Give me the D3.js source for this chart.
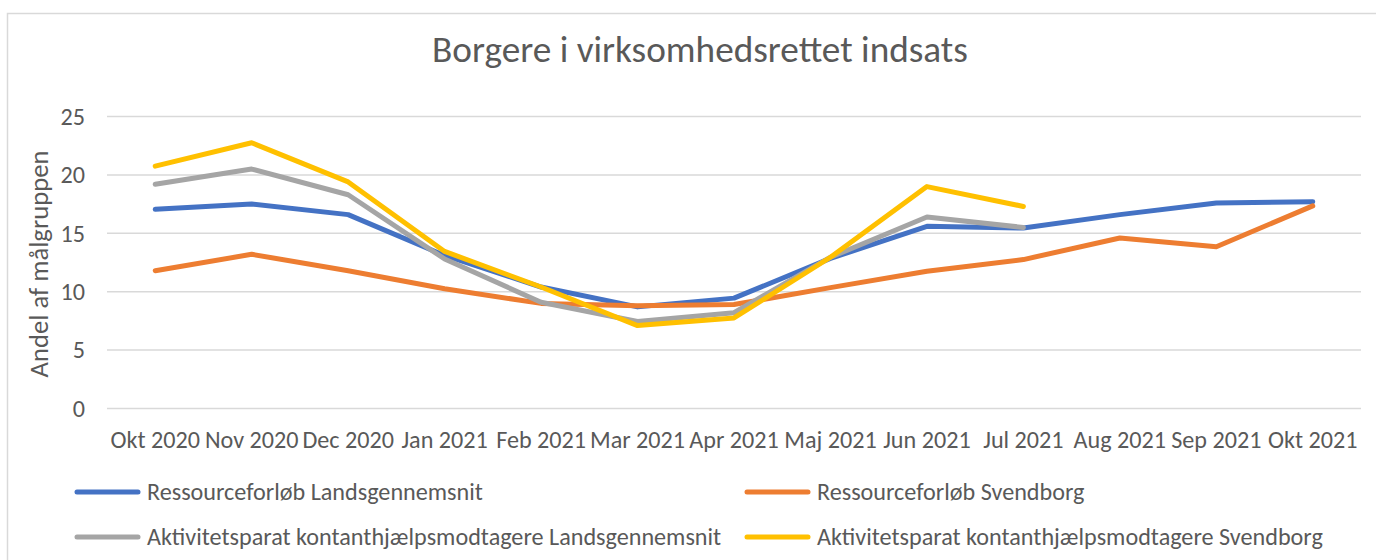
<!DOCTYPE html>
<html>
<head>
<meta charset="utf-8">
<script src="https://cdn.jsdelivr.net/npm/d3@7"></script>
<style>
  body { margin: 0; background: #fff; }
  svg { display: block; }
  text { font-family: Carlito, Calibri, Lato, sans-serif; fill: #595959; }
</style>
</head>
<body>
<svg id="chart"></svg>
<script>
// data
const months = ["Okt 2020", "Nov 2020", "Dec 2020", "Jan 2021", "Feb 2021", "Mar 2021", "Apr 2021",
  "Maj 2021", "Jun 2021", "Jul 2021", "Aug 2021", "Sep 2021", "Okt 2021"];
const ressLands = [17.05, 17.5, 16.6, 13.1, 10.4, 8.7, 9.45, 12.85, 15.6, 15.45, 16.6, 17.6, 17.7];
const ressSvend = [11.8, 13.2, 11.8, 10.25, 9.0, 8.8, 8.9, 10.35, 11.75, 12.75, 14.6, 13.85, 17.35];
const aktLands = [19.2, 20.5, 18.3, 12.8, 9.1, 7.45, 8.2, 12.95, 16.4, 15.5, null, null, null];
const aktSvend = [20.75, 22.75, 19.4, 13.45, 10.4, 7.1, 7.75, 12.95, 19.0, 17.3, null, null, null];
const yTicks = [0, 5, 10, 15, 20, 25];
const seriesNames = ["Ressourceforløb Landsgennemsnit", "Ressourceforløb Svendborg",
  "Aktivitetsparat kontanthjælpsmodtagere Landsgennemsnit", "Aktivitetsparat kontanthjælpsmodtagere Svendborg"];
const seriesColors = ["#4472C4", "#ED7D31", "#A5A5A5", "#FFC000"];
const title = "Borgere i virksomhedsrettet indsats";
const yTitle = "Andel af målgruppen";

const width = 1376, height = 560;
const margin = {left: 107, right: 15, top: 117, bottom: 152};

var svg = d3.select("#chart").attr("width", width).attr("height", height);

// chart frame
svg.append("rect")
  .attr("x", 7.5).attr("y", 13.5)
  .attr("width", width).attr("height", height)
  .attr("fill", "#fff").attr("stroke", "#d9d9d9").attr("stroke-width", 1.5);

var x = d3.scaleBand().domain(months).range([margin.left, width - margin.right]);
var y = d3.scaleLinear().domain([0, 25]).range([height - margin.bottom + 0.5, margin.top - 0.5]);

// measure once so the fallback font is sized like the original
function fitSize(str, target, base) {
  var t = svg.append("text").style("font-size", base + "px").text(str);
  var w = t.node().getComputedTextLength();
  t.remove();
  return base * target / w;
}
var fs = fitSize(seriesNames[0], 336, 24);
var titleFs = fitSize(title, 536, 36);
var yTitleFs = fitSize(yTitle, 227, 24);

// gridlines
svg.append("g")
  .selectAll("line")
  .data(yTicks).enter()
  .append("line")
  .attr("x1", margin.left).attr("x2", width - margin.right)
  .attr("y1", d => y(d)).attr("y2", d => y(d))
  .attr("stroke", "#d9d9d9").attr("stroke-width", 1.5);

// y axis labels
var yAxis = svg.append("g")
  .attr("transform", "translate(" + (margin.left - 22) + ",0)")
  .call(d3.axisLeft(y).tickValues(yTicks).tickSize(0).tickPadding(0));
yAxis.select(".domain").remove();

// x axis labels
var xAxis = svg.append("g")
  .attr("transform", "translate(0," + (y(0) + 22) + ")")
  .call(d3.axisBottom(x).tickSize(0).tickPadding(0));
xAxis.select(".domain").remove();

svg.selectAll(".tick text")
  .attr("font-family", null).attr("font-size", null)
  .attr("fill", "#595959")
  .style("font-size", fs + "px");

// titles
svg.append("text")
  .attr("x", 700).attr("y", 62)
  .attr("text-anchor", "middle")
  .style("font-size", titleFs + "px")
  .text(title);

svg.append("text")
  .attr("transform", "translate(48," + 264 + ") rotate(-90)")
  .attr("text-anchor", "middle")
  .style("font-size", yTitleFs + "px")
  .text(yTitle);

// lines
var allSeries = [ressLands, ressSvend, aktLands, aktSvend];
var line = d3.line()
  .defined(d => d != null)
  .x((d, i) => x(months[i]) + x.bandwidth() / 2)
  .y(d => y(d));

svg.append("g")
  .selectAll("path")
  .data(allSeries).enter()
  .append("path")
  .attr("d", d => line(d))
  .attr("fill", "none")
  .attr("stroke", (d, i) => seriesColors[i])
  .attr("stroke-width", 5)
  .attr("stroke-linejoin", "round")
  .attr("stroke-linecap", "round");

// legend, 2 columns
var legendX = [75, 745], legendY = [492, 537];
var legend = svg.append("g")
  .selectAll("g")
  .data(seriesNames).enter()
  .append("g")
  .attr("transform", (d, i) => "translate(" + legendX[i % 2] + "," + legendY[Math.floor(i / 2)] + ")");

legend.append("line")
  .attr("x1", 2).attr("x2", 63)
  .attr("stroke", (d, i) => seriesColors[i])
  .attr("stroke-width", 5)
  .attr("stroke-linecap", "round");

legend.append("text")
  .attr("x", 72).attr("dy", "0.33em")
  .style("font-size", fs + "px")
  .text(d => d);
</script>
</body>
</html>
